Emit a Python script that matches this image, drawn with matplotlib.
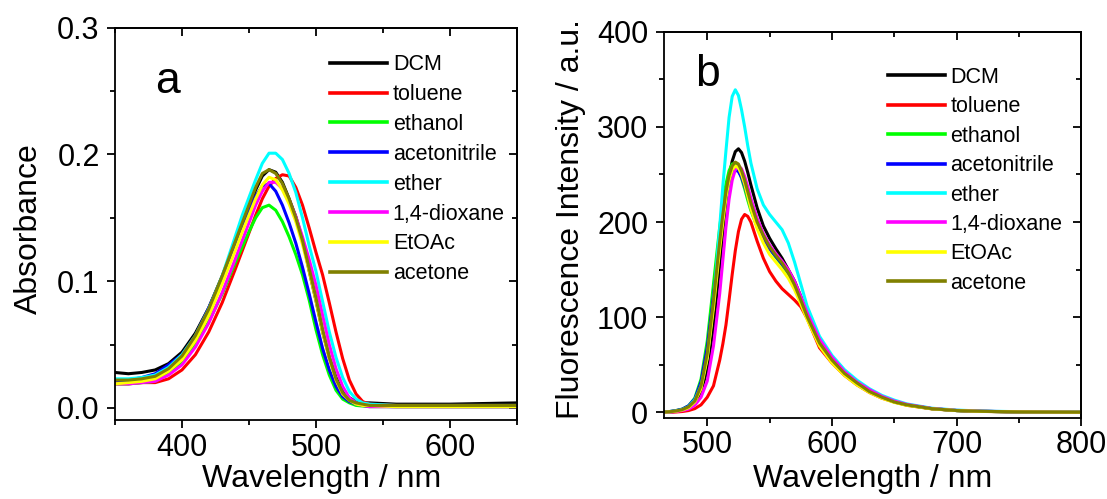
import matplotlib
matplotlib.use("Agg")
import matplotlib.pyplot as plt
from matplotlib.ticker import MultipleLocator, FormatStrFormatter

plt.rcParams['font.family'] = ['Liberation Sans', 'DejaVu Sans']

solvents = ["DCM", "toluene", "ethanol", "acetonitrile", "ether", "1,4-dioxane", "EtOAc", "acetone"]
colors = ["#000000", "#FF0000", "#00FF00", "#0000FF", "#00FFFF", "#FF00FF", "#FFFF00", "#808000"]

# ---- (a) absorbance ----
wl_abs = [350, 360, 370, 380, 390, 400, 410, 420, 430, 440, 445, 450, 455, 460, 465, 470, 475,
          480, 485, 490, 495, 500, 505, 510, 515, 520, 525, 530, 535, 540, 560, 600, 650]
abs_dcm = [0.028, 0.027, 0.028, 0.030, 0.035, 0.044, 0.059, 0.079, 0.104, 0.131, 0.145, 0.159, 0.172,
           0.183, 0.188, 0.186, 0.178, 0.165, 0.151, 0.133, 0.108, 0.085, 0.060, 0.040, 0.024, 0.013,
           0.008, 0.005, 0.004, 0.004, 0.003, 0.003, 0.004]
abs_toluene = [0.019, 0.019, 0.020, 0.020, 0.023, 0.030, 0.042, 0.060, 0.083, 0.110, 0.124, 0.138, 0.152,
               0.165, 0.175, 0.181, 0.184, 0.183, 0.174, 0.160, 0.142, 0.123, 0.105, 0.083, 0.060, 0.039,
               0.022, 0.011, 0.005, 0.003, 0.002, 0.002, 0.002]
abs_ethanol = [0.019, 0.019, 0.020, 0.021, 0.027, 0.036, 0.050, 0.068, 0.090, 0.115, 0.127, 0.139, 0.150,
               0.158, 0.160, 0.156, 0.147, 0.135, 0.121, 0.105, 0.085, 0.062, 0.042, 0.026, 0.014, 0.007,
               0.004, 0.002, 0.0015, 0.001, 0.001, 0.001, 0.001]
abs_acetonitrile = [0.021, 0.022, 0.024, 0.027, 0.034, 0.042, 0.057, 0.079, 0.103, 0.129, 0.142, 0.155, 0.167,
                    0.175, 0.177, 0.171, 0.160, 0.146, 0.130, 0.111, 0.090, 0.068, 0.047, 0.030, 0.017, 0.009,
                    0.005, 0.003, 0.002, 0.0015, 0.001, 0.001, 0.001]
abs_ether = [0.023, 0.023, 0.024, 0.026, 0.032, 0.042, 0.057, 0.078, 0.104, 0.136, 0.152, 0.166, 0.180,
             0.193, 0.201, 0.201, 0.196, 0.185, 0.170, 0.150, 0.128, 0.108, 0.084, 0.060, 0.040, 0.024,
             0.013, 0.007, 0.004, 0.003, 0.002, 0.002, 0.002]
abs_dioxane = [0.019, 0.019, 0.020, 0.021, 0.026, 0.034, 0.048, 0.067, 0.091, 0.118, 0.132, 0.146, 0.160,
               0.171, 0.178, 0.178, 0.173, 0.164, 0.151, 0.135, 0.117, 0.097, 0.073, 0.050, 0.031, 0.017,
               0.008, 0.004, 0.002, 0.001, 0.001, 0.001, 0.001]
abs_etoac = [0.019, 0.020, 0.021, 0.023, 0.029, 0.038, 0.053, 0.073, 0.098, 0.125, 0.139, 0.152, 0.165,
             0.176, 0.182, 0.180, 0.172, 0.161, 0.147, 0.129, 0.108, 0.085, 0.060, 0.039, 0.022, 0.011,
             0.006, 0.003, 0.002, 0.002, 0.001, 0.001, 0.001]
abs_acetone = [0.022, 0.022, 0.023, 0.025, 0.031, 0.041, 0.057, 0.078, 0.104, 0.132, 0.146, 0.160, 0.174,
               0.185, 0.188, 0.185, 0.177, 0.165, 0.150, 0.132, 0.110, 0.087, 0.062, 0.040, 0.023, 0.012,
               0.006, 0.004, 0.003, 0.002, 0.002, 0.002, 0.002]

# ---- (b) fluorescence ----
wl_fl = [465, 470, 475, 480, 485, 490, 495, 500, 505, 510, 512.5, 515, 517.5, 520, 522.5, 525, 527.5,
         530, 532.5, 535, 540, 545, 550, 555, 560, 565, 570, 575, 580, 590, 600, 610, 620, 630, 640,
         650, 660, 680, 700, 720, 750, 800]
fl_dcm = [0, 0.5, 1.2, 2.5, 5, 10, 22, 45, 90, 155, 190, 222, 248, 264, 274, 277, 273,
          264, 252, 239, 215, 196, 183, 172, 162, 150, 138, 122, 103, 75, 56, 42, 32, 23, 17,
          12, 8, 4, 2, 1.2, 0.6, 0.3]
fl_toluene = [0, 0.2, 0.5, 1, 2, 4, 8, 16, 28, 55, 72, 92, 118, 145, 170, 190, 203,
              208, 206, 200, 180, 162, 148, 138, 130, 124, 118, 111, 99, 68, 52, 39, 29, 21, 15,
              11, 7.5, 3.8, 2, 1.1, 0.6, 0.3]
fl_ethanol = [0.5, 1, 2, 3.5, 7, 15, 35, 75, 135, 195, 220, 240, 254, 261, 262, 256, 246,
              235, 223, 212, 195, 182, 172, 163, 155, 145, 132, 117, 100, 72, 54, 40, 30, 22, 16,
              11, 8, 4, 2, 1.2, 0.6, 0.3]
fl_acetonitrile = [0.4, 1, 2, 3.5, 7, 14, 32, 68, 122, 180, 204, 225, 241, 251, 255, 253, 247,
                   238, 227, 215, 196, 183, 172, 164, 156, 147, 134, 118, 101, 73, 55, 41, 31, 22, 16,
                   11, 8, 4, 2, 1.2, 0.6, 0.3]
fl_ether = [0, 0.5, 1.5, 3, 6, 13, 28, 58, 115, 195, 238, 275, 310, 332, 339, 333, 318,
            300, 280, 262, 235, 218, 208, 200, 192, 178, 158, 135, 112, 80, 60, 45, 34, 25, 18,
            13, 9, 4.5, 2.5, 1.5, 0.8, 0.5]
fl_dioxane = [0.2, 0.5, 1, 2, 3.5, 7.5, 16, 33, 70, 125, 160, 195, 224, 244, 255, 259, 256,
              248, 237, 225, 204, 188, 176, 167, 159, 150, 138, 122, 105, 77, 58, 43, 32, 24, 17,
              12, 8.5, 4.2, 2.2, 1.3, 0.7, 0.3]
fl_etoac = [0.3, 0.7, 1.4, 2.6, 5, 11, 25, 57, 110, 172, 200, 226, 244, 255, 259, 257, 250,
            240, 227, 214, 193, 178, 166, 158, 150, 141, 129, 114, 98, 70, 52, 39, 29, 21, 15,
            10.5, 7.5, 3.8, 2, 1.1, 0.6, 0.3]
fl_acetone = [0.3, 0.8, 1.6, 3, 6, 12, 28, 62, 118, 180, 208, 232, 249, 259, 263, 261, 254,
              244, 232, 220, 200, 186, 174, 165, 157, 147, 134, 118, 101, 73, 55, 41, 31, 22, 16,
              11, 8, 4, 2, 1.2, 0.6, 0.3]

abs_series = [abs_dcm, abs_toluene, abs_ethanol, abs_acetonitrile, abs_ether, abs_dioxane, abs_etoac, abs_acetone]
fl_series = [fl_dcm, fl_toluene, fl_ethanol, fl_acetonitrile, fl_ether, fl_dioxane, fl_etoac, fl_acetone]

W, H = 1107, 499
fig = plt.figure(figsize=(W / 100, H / 100), dpi=100)
ax1 = fig.add_axes([115 / W, (H - 420) / H, 401.8 / W, 392.3 / H])
ax2 = fig.add_axes([663.6 / W, (H - 417.7) / H, 417.8 / W, 386 / H])

for lab, c, y in zip(solvents, colors, abs_series):
    ax1.plot(wl_abs, y, color=c, lw=2.2, label=lab, solid_joinstyle='round')
for lab, c, y in zip(solvents, colors, fl_series):
    ax2.plot(wl_fl, y, color=c, lw=2.2, label=lab, solid_joinstyle='round')

ax1.set_xlim(350, 650)
ax1.set_ylim(-0.0095, 0.3)
ax1.xaxis.set_major_locator(MultipleLocator(100))
ax1.xaxis.set_minor_locator(MultipleLocator(50))
ax1.yaxis.set_major_locator(MultipleLocator(0.1))
ax1.yaxis.set_minor_locator(MultipleLocator(0.05))
ax1.yaxis.set_major_formatter(FormatStrFormatter('%.1f'))

ax2.set_xlim(465, 800)
ax2.set_ylim(-5.5, 400)
ax2.xaxis.set_major_locator(MultipleLocator(100))
ax2.xaxis.set_minor_locator(MultipleLocator(50))
ax2.yaxis.set_major_locator(MultipleLocator(100))
ax2.yaxis.set_minor_locator(MultipleLocator(50))

for ax, ystep in ((ax1, 0.1), (ax2, 100)):
    for s in ax.spines.values():
        s.set_linewidth(1.3)
    ax.tick_params(which='major', direction='out', length=6, width=1.3, labelsize=22)
    ax.tick_params(which='minor', direction='out', length=3.5, width=1.3)
    ax.tick_params(axis='x', which='major', pad=3)
    ax.tick_params(axis='y', which='major', pad=5)
    sx = ax.secondary_xaxis('top')
    sx.xaxis.set_major_locator(MultipleLocator(100))
    sx.xaxis.set_minor_locator(MultipleLocator(50))
    sx.tick_params(which='major', direction='in', length=6, width=1.3, labeltop=False)
    sx.tick_params(which='minor', direction='in', length=3.5, width=1.3)
    sx.spines['top'].set_linewidth(1.3)
    sy = ax.secondary_yaxis('right')
    sy.yaxis.set_major_locator(MultipleLocator(ystep))
    sy.yaxis.set_minor_locator(MultipleLocator(ystep / 2))
    sy.tick_params(which='major', direction='in', length=6, width=1.3, labelright=False)
    sy.tick_params(which='minor', direction='in', length=3.5, width=1.3)
    sy.spines['right'].set_linewidth(1.3)
    ax.set_xlabel("Wavelength / nm", fontsize=23)

ax1.xaxis.set_label_coords(0.515, -0.112)
ax2.xaxis.set_label_coords(0.5, -0.12)
ax1.set_ylabel("Absorbance", fontsize=23)
ax2.set_ylabel("Fluorescence Intensity / a.u.", fontsize=23)
ax1.yaxis.set_label_coords(-0.176, 0.487)
ax2.yaxis.set_label_coords(-0.1857, 0.515)

ax1.text(0.1, 0.834, "a", transform=ax1.transAxes, fontsize=32)
ax2.text(0.075, 0.859, "b", transform=ax2.transAxes, fontsize=32)

leg_kw = dict(frameon=False, fontsize=15.5, borderpad=0, borderaxespad=0, loc='upper left')
l1 = ax1.legend(bbox_to_anchor=(0.536, 0.932), handlelength=2.62, handletextpad=0.28,
                labelspacing=0.41, **leg_kw)
l2 = ax2.legend(bbox_to_anchor=(0.538, 0.9085), handlelength=2.64, handletextpad=0.25,
                labelspacing=0.39, **leg_kw)
for leg in (l1, l2):
    for ln in leg.get_lines():
        ln.set_linewidth(2.6)

fig.savefig("out.png", dpi=100)
